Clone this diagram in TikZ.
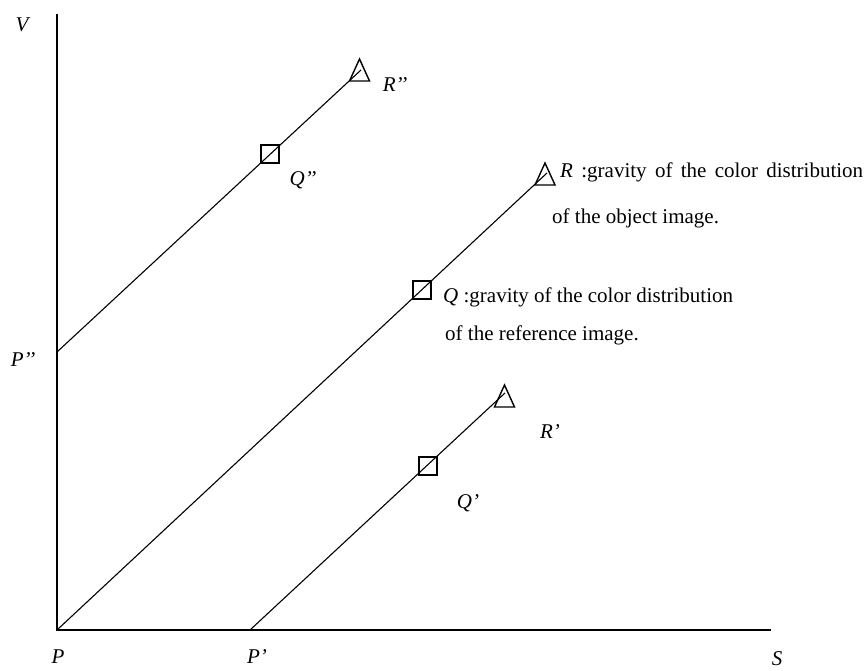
\documentclass[tikz,border=0pt]{standalone}
\usepackage{fontspec}
\setmainfont{Liberation Serif}
\begin{document}
\begin{tikzpicture}[x=1pt,y=1pt,
  axis/.style={line width=2pt},
  ray/.style={line width=1.1pt},
  sq/.style={draw,line width=1.4pt,minimum size=18pt,inner sep=0pt},
  lbl/.style={inner sep=0pt,font=\fontsize{21}{25}\selectfont\itshape},
  txt/.style={inner sep=0pt,anchor=west,font=\fontsize{21}{25}\selectfont},
  tri/.pic={\draw[line width=1.4pt,line join=miter] (-10,-11) -- (10,-11) -- (0,11) -- cycle;}
]
\useasboundingbox (0,0) rectangle (868,671);
% axes
\coordinate (O) at (57,41);
\coordinate (Vtop) at (57,657);
\coordinate (Send) at (771,41);
\draw[axis] (Vtop) -- (O) -- (Send);
% start points
\coordinate (P0) at (57,41);
\coordinate (P1) at (250,41);
\coordinate (P2) at (57,319);
% end points
\coordinate (E0) at (547,498);
\coordinate (E1) at (505,278);
\coordinate (E2) at (361,601);
% rays
\draw[ray] (P0) -- (E0);
\draw[ray] (P1) -- (E1);
\draw[ray] (P2) -- (E2);
% squares
\node[sq] (Q0) at (422,381) {};
\node[sq] (Q1) at (428,205) {};
\node[sq] (Q2) at (270,517) {};
% triangles
\coordinate (T0) at (545,497);
\coordinate (T1) at (504.5,275);
\coordinate (T2) at (359.5,601);
\pic at (T0) {tri};
\pic at (T1) {tri};
\pic at (T2) {tri};
% labels
\node[lbl] (lV) at (22,646) {V};
\node[lbl] (lP2) at (23,311) {P’’};
\node[lbl] (lP0) at (58,14) {P};
\node[lbl] (lP1) at (257,14) {P’};
\node[lbl] (lS) at (777,12) {S};
\node[lbl] (lR2) at (395,586) {R’’};
\node[lbl] (lQ2) at (303,491) {Q’’};
\node[lbl] (lR1) at (550,239) {R’};
\node[lbl] (lQ1) at (468,168) {Q’};
% descriptions
\node[txt] (tR1) at (560,499) {\makebox[303pt][s]{\textit{R} :gravity of the color distribution}};
\node[txt] (tR2) at (552,453) {of the object image.};
\node[txt] (tQ1) at (443,374) {\textit{Q} :gravity of the color distribution};
\node[txt] (tQ2) at (445,336) {of the reference image.};
\end{tikzpicture}
\end{document}
